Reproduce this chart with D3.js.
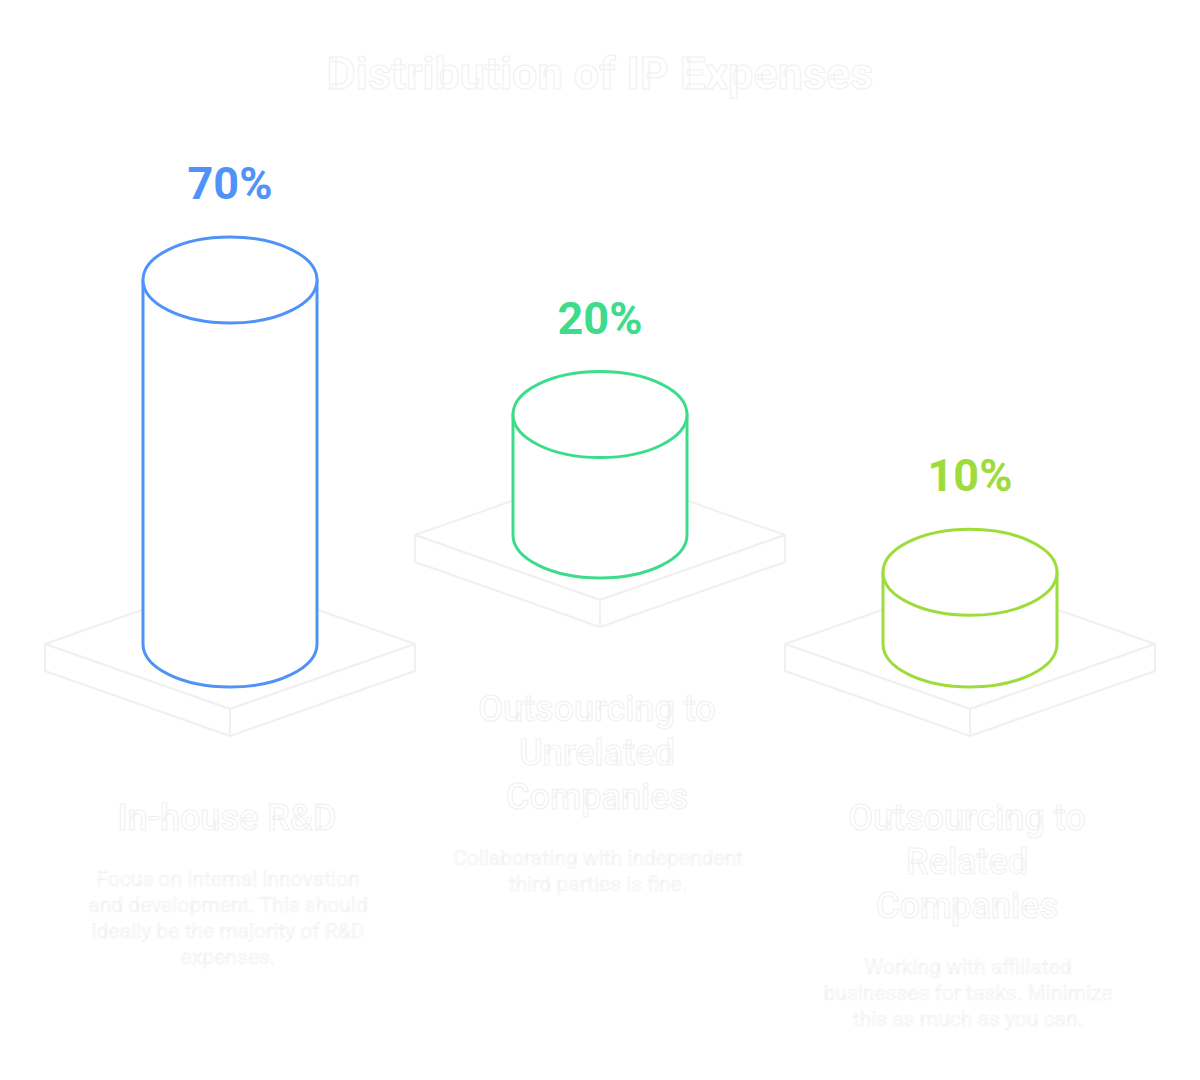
<!DOCTYPE html>
<html>
<head>
<meta charset="utf-8">
<script src="https://cdn.jsdelivr.net/npm/d3@7"></script>
<style>
  body { margin: 0; background: #ffffff; }
  svg { display: block; font-family: Roboto, "Noto Sans", sans-serif; }
</style>
</head>
<body>
<svg id="chart"></svg>
<script>
// Data
const categories = ["In-house R&D", "Outsourcing to Unrelated Companies", "Outsourcing to Related Companies"];
const labelLines = [
    ["In-house R&D"],
    ["Outsourcing to", "Unrelated", "Companies"],
    ["Outsourcing to", "Related", "Companies"]
];
const shares = [70, 20, 10];
const descriptions = [
    ["Focus on internal innovation", "and development. This should", "ideally be the majority of R&D", "expenses."],
    ["Collaborating with independent", "third parties is fine."],
    ["Working with affiliated", "businesses for tasks. Minimize", "this as much as you can."]
];
const colors = ["#4f93f8", "#3ddc8b", "#9edc3c"];
const title = "Distribution of IP Expenses";

const width = 1200, height = 1080;

const svg = d3.select("#chart")
    .attr("width", width)
    .attr("height", height);

// Scales
const x = d3.scalePoint()
    .domain(categories)
    .range([230, 970]);

// cylinder height (bottom centre to top centre)
const h = d3.scaleLinear()
    .domain([0, 70])
    .range([23, 364]);

const rx = 87, ry = 43;
const pw = 185, ph = 65, pt = 27;   // platform half width, half height, thickness
const baseY = i => (i % 2 === 1 ? 535 : 644);

const faint = "#f0f0f0";

// Title
svg.append("text")
    .attr("x", width / 2)
    .attr("y", 89)
    .attr("text-anchor", "middle")
    .attr("font-size", "45px")
    .attr("font-weight", 700)
    .attr("fill", "#ffffff")
    .attr("stroke", faint)
    .attr("stroke-width", 1)
    .text(title);

const groups = svg.selectAll(".item")
    .data(categories)
    .enter().append("g")
    .attr("class", "item");

groups.each(function (cat, i) {
    const g = d3.select(this);
    const cx = x(cat);
    const by = baseY(i);

    // Platform
    const top = [[cx - pw, by], [cx, by - ph], [cx + pw, by], [cx, by + ph]];
    const left = [[cx - pw, by], [cx, by + ph], [cx, by + ph + pt], [cx - pw, by + pt]];
    const right = [[cx + pw, by], [cx, by + ph], [cx, by + ph + pt], [cx + pw, by + pt]];
    [top, left, right].forEach(pts => {
        g.append("path")
            .attr("d", d3.line()(pts) + "Z")
            .attr("fill", "#ffffff")
            .attr("stroke", faint)
            .attr("stroke-width", 2)
            .attr("stroke-linejoin", "round");
    });

    // Cylinder
    const ty = by - h(shares[i]);
    const body = `M${cx - rx},${ty} L${cx - rx},${by} A${rx},${ry} 0 0 0 ${cx + rx},${by} L${cx + rx},${ty} Z`;
    g.append("path")
        .attr("d", body)
        .attr("fill", "#ffffff")
        .attr("stroke", colors[i])
        .attr("stroke-width", 3)
        .attr("stroke-linejoin", "round");
    g.append("ellipse")
        .attr("cx", cx)
        .attr("cy", ty)
        .attr("rx", rx)
        .attr("ry", ry)
        .attr("fill", "#ffffff")
        .attr("stroke", colors[i])
        .attr("stroke-width", 3);

    // Percent label
    g.append("text")
        .attr("x", cx)
        .attr("y", ty - ry - 38)
        .attr("text-anchor", "middle")
        .attr("font-size", "45px")
        .attr("font-weight", 700)
        .attr("fill", colors[i])
        .text(shares[i] + "%");

    // Category label
    const ly = by + ph + pt + 94;
    const lab = g.append("text")
        .attr("text-anchor", "middle")
        .attr("font-size", "36px")
        .attr("font-weight", 500)
        .attr("fill", "#ffffff")
        .attr("stroke", faint)
        .attr("stroke-width", 1);
    labelLines[i].forEach((t, j) => {
        lab.append("tspan")
            .attr("x", cx - 3)
            .attr("y", ly + j * 44)
            .text(t);
    });

    // Description
    const dy0 = ly + (labelLines[i].length - 1) * 44 + 56;
    const desc = g.append("text")
        .attr("text-anchor", "middle")
        .attr("font-size", "21px")
        .attr("fill", "#ffffff")
        .attr("stroke", faint)
        .attr("stroke-width", 0.6);
    descriptions[i].forEach((t, j) => {
        desc.append("tspan")
            .attr("x", cx - 2)
            .attr("y", dy0 + j * 26)
            .text(t);
    });
});
</script>
</body>
</html>
